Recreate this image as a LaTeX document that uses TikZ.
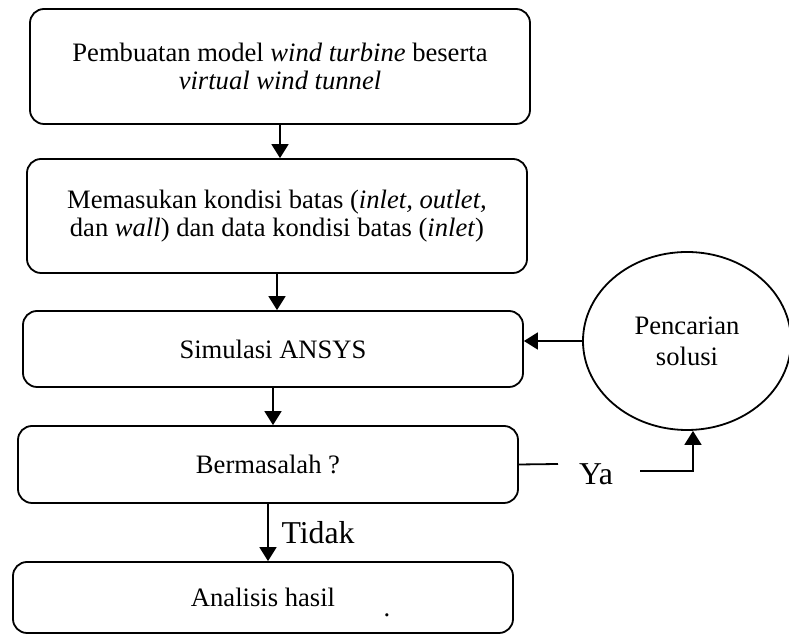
\documentclass[tikz,border=0pt]{standalone}
\usepackage{fontspec}
\setmainfont{Liberation Serif}
\usetikzlibrary{arrows.meta,shapes.geometric}

\begin{document}
\begin{tikzpicture}[x=0.5pt, y=-0.5pt, >={Triangle[length=7pt,width=8.5pt]}]
   \tikzstyle{every node}=[font=\fontsize{13.3}{14}\selectfont]
   \tikzstyle{langkah}=[draw, line width=0.9pt, rounded corners=7pt, minimum width=250pt, inner sep=0pt, align=center]
   \tikzstyle{panah}=[->, line width=0.9pt]
   \tikzstyle{ket}=[font=\fontsize{15.9}{18}\selectfont]

\useasboundingbox (0,0) rectangle (789,635);

\node[langkah, minimum height=57.5pt] (model) at (280,66.5) {Pembuatan model \textit{wind turbine} beserta\\ \textit{virtual wind tunnel}};
\node[langkah, minimum height=57pt] (batas) at (277,216) {Memasukan kondisi batas (\textit{inlet, outlet,}\\ dan \textit{wall}) dan data kondisi batas (\textit{inlet})};
\node[langkah, minimum height=38pt] (simulasi) at (273,349) {Simulasi ANSYS};
\node[langkah, minimum height=38.5pt] (cek) at (268,464.5) {Bermasalah ?};
\node[langkah, minimum height=35.5pt] (hasil) at (263,597.5) {Analisis hasil};
\node (titik) at (387,615) {.};

\node[draw, ellipse, line width=0.9pt, minimum width=104pt, minimum height=89pt, inner sep=0pt, align=center,
      font=\fontsize{13.3}{15.5}\selectfont] (solusi) at (687,341) {Pencarian\\solusi};

\draw[panah] (model.south) -- (model.south |- batas.north);
\draw[panah] (batas.south) -- (batas.south |- simulasi.north);
\draw[panah] (simulasi.south) -- (simulasi.south |- cek.north);
\draw[panah] (cek.south) -- node[ket, right, xshift=3pt] {Tidak} (cek.south |- hasil.north);
\draw[panah] (solusi.west) -- (solusi.west -| simulasi.east);

% cabang Ya
\node[ket] (ya) at (596,474) {Ya};
\coordinate (yaKiri) at (558,464);
\coordinate (yaKanan) at (640,471);
\draw[line width=0.9pt] (cek.east) -- (yaKiri);
\draw[panah] (yaKanan) -| ([xshift=3pt]solusi.south);

\end{tikzpicture}
\end{document}
